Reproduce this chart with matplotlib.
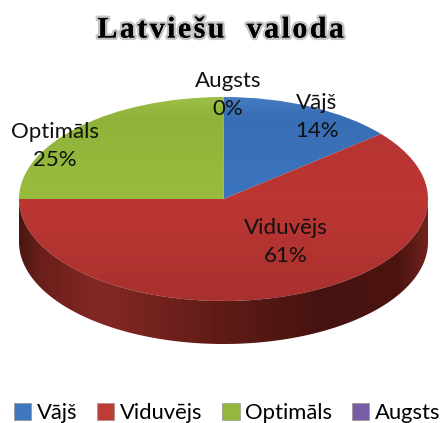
import numpy as np
import matplotlib
matplotlib.use("Agg")
import matplotlib.pyplot as plt
import matplotlib.patheffects as pe
from matplotlib.colors import LinearSegmentedColormap
from matplotlib.patches import Patch

title = "Latviešu  valoda"
categories = ["Vājš", "Viduvējs", "Optimāls", "Augsts"]
values = [14, 61, 25, 0]
colors = ["#3B74BE", "#BC3633", "#97BC3D", "#7D5FA0"]
legend_colors = ["#3F78BE", "#BE3C38", "#94B83E", "#7A5BA5"]

W, H = 443, 423
fig = plt.figure(figsize=(W / 100, H / 100), dpi=100, facecolor="white")

# full-figure pixel axes for extruded side and text
px = fig.add_axes([0, 0, 1, 1], zorder=2)
px.set_xlim(0, W)
px.set_ylim(H, 0)
px.axis("off")

cx, cy, rx, ry, depth = 223.5, 199, 204.5, 102, 43
t = np.linspace(0, np.pi, 300)
xs = cx + rx * np.cos(t)
ys = cy + ry * np.sin(t)
side_x = np.r_[xs, xs[::-1]]
side_y = np.r_[ys, ys[::-1] + depth]
poly = px.fill(side_x, side_y, color="none", lw=0)[0]
side_cmap = LinearSegmentedColormap.from_list(
    "side",
    [(0, "#4A1612"), (0.05, "#6A1F1A"), (0.2, "#842825"), (0.45, "#651D18"),
     (0.75, "#45120F"), (0.93, "#4C1410"), (1, "#70231E")],
)
im = px.imshow(np.linspace(0, 1, 256)[None, :], extent=(cx - rx, cx + rx, cy + ry + depth, cy),
               cmap=side_cmap, aspect="auto", zorder=1)
im.set_clip_path(poly)
px.set_xlim(0, W)
px.set_ylim(H, 0)

# top surface of the pie
top = fig.add_axes([(cx - rx) / W, 1 - (cy + ry) / H, 2 * rx / W, 2 * ry / H], zorder=1)
top.patch.set_alpha(0)
wedges, _ = top.pie(values, colors=colors, startangle=90, counterclock=False,
                    radius=1, wedgeprops=dict(lw=0))
top.set_aspect("auto")
top.set_xlim(-1, 1)
top.set_ylim(-1, 1)
shade = LinearSegmentedColormap.from_list(
    "shade", [(0, (0, 0, 0, 0.10)), (0.5, (0, 0, 0, 0.0)), (0.9, (0, 0, 0, 0.05)), (1, (1, 1, 1, 0.06))])
for w in wedges:
    g = top.imshow(np.linspace(1, 0, 128)[:, None], extent=(-1, 1, -1, 1), cmap=shade,
                   aspect="auto", zorder=3)
    g.set_clip_path(w)
top.set_xlim(-1, 1)
top.set_ylim(-1, 1)

# data labels
label_pos = {"Vājš": (317, 117), "Viduvējs": (286, 242), "Optimāls": (55, 146), "Augsts": (228, 95)}
for name, v in zip(categories, values):
    x, y = label_pos[name]
    px.text(x, y, f"{name}\n{v}%", ha="center", va="center", fontsize=16, family="Lato",
            color="#111111", linespacing=1.5, zorder=5)

# title
spaced = "\u200a".join(title)
px.text(221, 30, spaced, ha="center", va="center", fontsize=21.5, weight="bold",
        family=["Liberation Serif", "DejaVu Serif"], color="black", zorder=6,
        path_effects=[pe.withStroke(linewidth=3.5, foreground="#C4C4C4"), pe.Normal()])

# legend
handles = [Patch(facecolor=c, edgecolor="#8A8A8A", lw=0.4) for c in legend_colors]
px.legend(handles, categories, loc="center", bbox_to_anchor=(227 / W, 1 - 413 / H), ncol=4,
          frameon=False, prop=dict(family="Lato", size=15.8), handlelength=0.8, handleheight=0.8,
          handletextpad=0.25, columnspacing=0.9, borderpad=0)

fig.savefig("out.png", dpi=100, facecolor="white")
